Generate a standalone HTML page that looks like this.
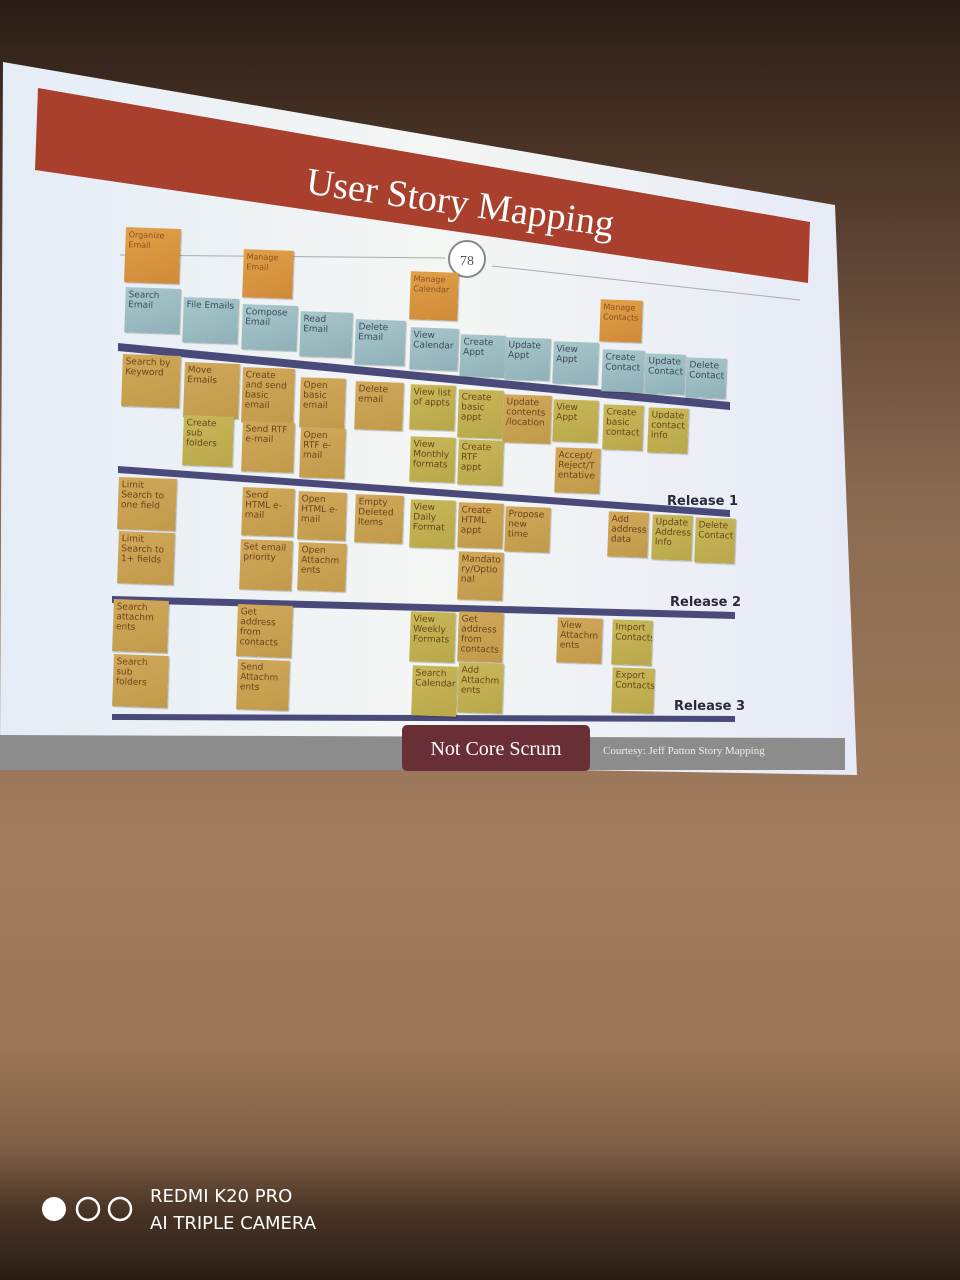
<!DOCTYPE html>
<html><head><meta charset="utf-8"><style>
body{margin:0;width:960px;height:1280px;overflow:hidden;position:relative;font-family:"DejaVu Sans","Liberation Sans",sans-serif;
background:linear-gradient(180deg,#2a1d16 0px,#4a3326 150px,#8a6a50 500px,#a07c5e 850px,#9a7656 1050px,#7e5e45 1150px,#4a3526 1210px,#2a1d16 1280px);}
.n{position:absolute;font-size:9px;line-height:10px;color:#6b4418;padding:3px 3px;box-sizing:border-box;
background:linear-gradient(160deg,#d2a85a,#c09a4a);box-shadow:1px 1px 1px rgba(0,0,0,.25);transform:rotate(2deg);overflow:hidden}
.g{background:linear-gradient(160deg,#c8b85a,#b8a84a)}
.b{background:linear-gradient(160deg,#a8c8cc,#8fb0b8);color:#3a4a5a}
.o{background:linear-gradient(160deg,#e0a048,#d08a38);color:#8a5020;font-size:8px}
.r{position:absolute;font-size:13px;color:#2a2a3a;font-family:"DejaVu Sans",sans-serif;font-weight:bold}
</style></head><body>
<svg width="960" height="1280" style="position:absolute;left:0;top:0">
<defs><linearGradient id="s" x1="0" y1="0" x2="1" y2="0"><stop offset="0" stop-color="#e4ecf6"/><stop offset=".5" stop-color="#f4f6f4"/><stop offset="1" stop-color="#e6eaf6"/></linearGradient></defs>
<polygon points="3,62 835,205 857,775 0,760" fill="url(#s)"/>
<polygon points="38,88 810,222 808,283 35,170" fill="#a9402e"/>
<line x1="120" y1="255" x2="445" y2="258" stroke="#aaa" stroke-width="1"/>
<line x1="492" y1="266" x2="800" y2="300" stroke="#aaa" stroke-width="1"/>
<circle cx="467" cy="259" r="18" fill="#fff" stroke="#888" stroke-width="2"/>
<text x="467" y="265" font-size="14" text-anchor="middle" fill="#555" font-family="Liberation Serif">78</text>
<text x="460" y="215" font-size="38" text-anchor="middle" fill="#fff" font-family="Liberation Serif" transform="rotate(8 460 205)">User Story Mapping</text>
<polygon points="118,343 730,402 730,410 118,351" fill="#4a4a7a"/>
<polygon points="118,466 730,510 730,517 118,473" fill="#4a4a7a"/>
<polygon points="112,596 735,612 735,619 112,603" fill="#4a4a7a"/>
<polygon points="112,714 735,716 735,722 112,720" fill="#4a4a7a"/>
<polygon points="0,735 845,738 845,770 0,770" fill="#8c8c8c"/>
<rect x="402" y="725" width="188" height="46" rx="5" fill="#6a2e36"/>
<text x="496" y="755" font-size="20" text-anchor="middle" fill="#fff" font-family="Liberation Serif">Not Core Scrum</text>
<text x="603" y="754" font-size="11" fill="#eee" font-family="Liberation Serif">Courtesy:  Jeff Patton Story Mapping</text>
<circle cx="54" cy="1209" r="12" fill="#fff"/>
<circle cx="88" cy="1209" r="11" fill="none" stroke="#fff" stroke-width="2.5"/>
<circle cx="120" cy="1209" r="11" fill="none" stroke="#fff" stroke-width="2.5"/>
<text x="150" y="1202" font-size="18" fill="#fff" font-family="DejaVu Sans">REDMI K20 PRO</text>
<text x="150" y="1229" font-size="18" fill="#fff" font-family="DejaVu Sans">AI TRIPLE CAMERA</text>
</svg>
<div class="n o" style="left:125px;top:228px;width:55px;height:55px">Organize Email</div>
<div class="n o" style="left:243px;top:250px;width:50px;height:48px">Manage Email</div>
<div class="n o" style="left:410px;top:272px;width:48px;height:48px">Manage Calendar</div>
<div class="n o" style="left:600px;top:300px;width:42px;height:42px">Manage Contacts</div>

<div class="n b" style="left:125px;top:288px;width:55px;height:45px">Search Email</div>
<div class="n b" style="left:183px;top:298px;width:55px;height:45px">File Emails</div>
<div class="n b" style="left:242px;top:305px;width:55px;height:45px">Compose Email</div>
<div class="n b" style="left:300px;top:312px;width:52px;height:45px">Read Email</div>
<div class="n b" style="left:355px;top:320px;width:50px;height:45px">Delete Email</div>
<div class="n b" style="left:410px;top:328px;width:48px;height:42px">View Calendar</div>
<div class="n b" style="left:460px;top:335px;width:45px;height:42px">Create Appt</div>
<div class="n b" style="left:505px;top:338px;width:45px;height:42px">Update Appt</div>
<div class="n b" style="left:553px;top:342px;width:45px;height:42px">View Appt</div>
<div class="n b" style="left:602px;top:350px;width:42px;height:42px">Create Contact</div>
<div class="n b" style="left:645px;top:354px;width:40px;height:40px">Update Contact</div>
<div class="n b" style="left:686px;top:358px;width:40px;height:40px">Delete Contact</div>

<div class="n" style="left:122px;top:355px;width:58px;height:52px">Search by Keyword</div>
<div class="n" style="left:184px;top:363px;width:55px;height:55px">Move Emails</div>
<div class="n" style="left:242px;top:368px;width:52px;height:55px">Create and send basic email</div>
<div class="n" style="left:300px;top:378px;width:45px;height:50px">Open basic email</div>
<div class="n" style="left:355px;top:382px;width:48px;height:48px">Delete email</div>
<div class="n g" style="left:410px;top:385px;width:45px;height:45px">View list of appts</div>
<div class="n g" style="left:458px;top:390px;width:45px;height:48px">Create basic appt</div>
<div class="n" style="left:503px;top:395px;width:48px;height:48px">Update contents /location</div>
<div class="n g" style="left:553px;top:400px;width:45px;height:42px">View Appt</div>
<div class="n g" style="left:603px;top:405px;width:40px;height:45px">Create basic contact</div>
<div class="n g" style="left:648px;top:408px;width:40px;height:45px">Update contact info</div>
<div class="n g" style="left:183px;top:416px;width:50px;height:50px">Create sub folders</div>
<div class="n" style="left:242px;top:422px;width:52px;height:50px">Send RTF e-mail</div>
<div class="n" style="left:300px;top:428px;width:45px;height:50px">Open RTF e-mail</div>
<div class="n g" style="left:410px;top:437px;width:45px;height:45px">View Monthly formats</div>
<div class="n g" style="left:458px;top:440px;width:45px;height:45px">Create RTF appt</div>
<div class="n" style="left:555px;top:448px;width:45px;height:45px">Accept/ Reject/T entative</div>

<div class="r" style="left:667px;top:494px">Release 1</div>
<div class="n" style="left:118px;top:478px;width:58px;height:52px">Limit Search to one field</div>
<div class="n" style="left:118px;top:532px;width:56px;height:52px">Limit Search to 1+ fields</div>
<div class="n" style="left:242px;top:488px;width:52px;height:48px">Send HTML e-mail</div>
<div class="n" style="left:298px;top:492px;width:48px;height:48px">Open HTML e-mail</div>
<div class="n" style="left:355px;top:495px;width:48px;height:48px">Empty Deleted Items</div>
<div class="n g" style="left:410px;top:500px;width:45px;height:48px">View Daily Format</div>
<div class="n" style="left:458px;top:503px;width:45px;height:45px">Create HTML appt</div>
<div class="n" style="left:505px;top:507px;width:45px;height:45px">Propose new time</div>
<div class="n" style="left:608px;top:512px;width:40px;height:45px">Add address data</div>
<div class="n g" style="left:652px;top:515px;width:40px;height:45px">Update Address Info</div>
<div class="n g" style="left:695px;top:518px;width:40px;height:45px">Delete Contact</div>
<div class="n" style="left:240px;top:540px;width:52px;height:50px">Set email priority</div>
<div class="n" style="left:298px;top:543px;width:48px;height:48px">Open Attachm ents</div>
<div class="n" style="left:458px;top:552px;width:45px;height:48px">Mandato ry/Optio nal</div>

<div class="r" style="left:670px;top:595px">Release 2</div>
<div class="n" style="left:113px;top:600px;width:55px;height:52px">Search attachm ents</div>
<div class="n" style="left:113px;top:655px;width:55px;height:52px">Search sub folders</div>
<div class="n" style="left:237px;top:605px;width:55px;height:52px">Get address from contacts</div>
<div class="n" style="left:237px;top:660px;width:52px;height:50px">Send Attachm ents</div>
<div class="n g" style="left:410px;top:612px;width:45px;height:50px">View Weekly Formats</div>
<div class="n" style="left:458px;top:612px;width:45px;height:50px">Get address from contacts</div>
<div class="n" style="left:557px;top:618px;width:45px;height:45px">View Attachm ents</div>
<div class="n g" style="left:612px;top:620px;width:40px;height:45px">Import Contacts</div>
<div class="n g" style="left:412px;top:666px;width:45px;height:50px">Search Calendar</div>
<div class="n g" style="left:458px;top:663px;width:45px;height:50px">Add Attachm ents</div>
<div class="n g" style="left:612px;top:668px;width:42px;height:45px">Export Contacts</div>
<div class="r" style="left:674px;top:699px">Release 3</div>
</body></html>
